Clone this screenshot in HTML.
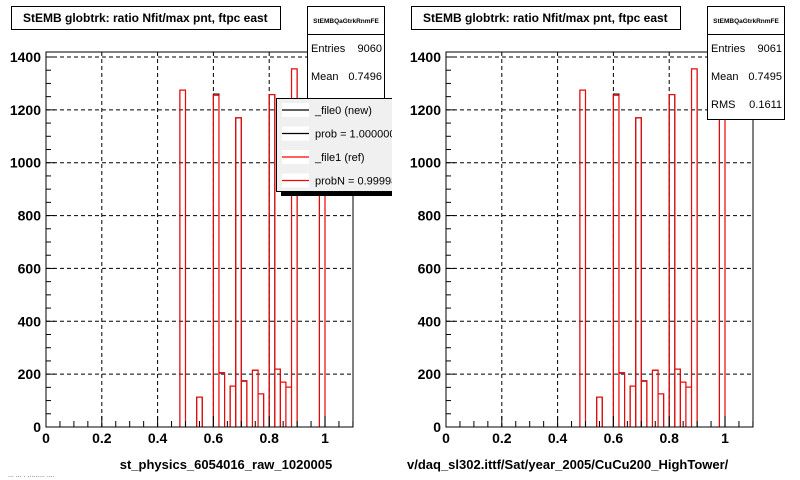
<!DOCTYPE html>
<html><head><meta charset="utf-8"><style>
html,body{margin:0;padding:0;background:#fff}
svg{display:block;font-family:"Liberation Sans",Arial,sans-serif}
</style></head><body>
<svg id="chart" width="800" height="480" viewBox="0 0 800 480" xmlns="http://www.w3.org/2000/svg">
<rect x="0" y="0" width="800" height="480" fill="#fff"/>
</svg>
<script>
const binLefts = [0.48,0.54,0.60,0.62,0.66,0.68,0.70,0.74,0.76,0.80,0.82,0.84,0.86,0.88,0.98];
const refCounts = [1275,113,1255,203,155,1170,173,215,125,1258,219,170,151,1355,1250];
const newCounts = [1275,113,1260,205,155,1170,175,215,125,1258,219,170,151,1355,1250];
const binWidth = 0.02;
const xTicks = [0,0.2,0.4,0.6,0.8,1];
const xTickLabels = ["0","0.2","0.4","0.6","0.8","1"];
const yTicks = [0,200,400,600,800,1000,1200,1400];
const yTickLabels = ["0","200","400","600","800","1000","1200","1400"];

const NS="http://www.w3.org/2000/svg";
const svg=document.getElementById('chart');
function mk(tag,attrs,parent,text){const e=document.createElementNS(NS,tag);for(const k in attrs)e.setAttribute(k,attrs[k]);if(text!==undefined)e.textContent=text;(parent||svg).appendChild(e);return e;}

function panel(off, idx, xtitle, stats, withLegend){
  const g=mk('g',{});
  
  
  const X0=46+off, X1=353+off, Y0=427, Ytop=52;
  const xs=v=>X0+v*(325-46);
  const ys=v=>Y0-v*(370/1400);
  for(let i=1;i<xTicks.length;i++){
    const l=mk('line',{x1:xs(xTicks[i]),x2:xs(xTicks[i]),y1:Ytop,y2:Y0,stroke:'#000','stroke-width':1,'stroke-dasharray':'4,3'},g);
    
    
  }
  for(let i=1;i<yTicks.length;i++){
    const l=mk('line',{x1:X0,x2:X1,y1:ys(yTicks[i]),y2:ys(yTicks[i]),stroke:'#000','stroke-width':1,'stroke-dasharray':'4,3'},g);
    
    
  }
  function hist(counts,color,name){
    let d='M'+X0+','+Y0;
    for(let i=0;i<binLefts.length;i++){
      const a=xs(binLefts[i]),b=xs(binLefts[i]+binWidth),h=ys(counts[i]);
      d+=' L'+a+','+Y0+' L'+a+','+h+' L'+b+','+h+' L'+b+','+Y0;
    }
    d+=' L'+X1+','+Y0;
    const p=mk('path',{d:d,fill:'none',stroke:color,'stroke-width':1.1},g);
    
    
  }
  hist(newCounts,'#000','hist-new');
  hist(refCounts,'#f00','hist-ref');
  const fr=mk('rect',{x:X0,y:Ytop,width:X1-X0,height:Y0-Ytop,fill:'none',stroke:'#000','stroke-width':1},g);
  
  
  for(let v=0;v<=1.1001;v+=0.05){
    const major=Math.abs(v/0.2-Math.round(v/0.2))<1e-6;
    mk('line',{x1:xs(v),x2:xs(v),y1:Y0,y2:Y0-(major?11:6),stroke:'#000'},g);
  }
  for(let i=0;i<xTicks.length;i++){
    const t=mk('text',{x:xs(xTicks[i]),y:443,'text-anchor':'middle','font-size':14,'font-weight':'bold'},g,xTickLabels[i]);
    
    
  }
  for(let v=0;v<=1400;v+=50){
    const major=v%200===0;
    mk('line',{x1:X0,x2:X0+(major?9:5),y1:ys(v),y2:ys(v),stroke:'#000'},g);
  }
  for(let i=0;i<yTicks.length;i++){
    const t=mk('text',{x:X0-5,y:ys(yTicks[i])+5,'text-anchor':'end','font-size':14,'font-weight':'bold'},g,yTickLabels[i]);
    
    
  }
  const xt=mk('text',{x:(idx===1?226:407),y:469,'text-anchor':idx===1?'middle':'start','font-size':13,'font-weight':'bold'},g,xtitle);
  
  
  const tb=mk('rect',{x:11.5+off,y:6.5,width:269,height:23,fill:'#fff',stroke:'#000'},g);
  
  
  const tt=mk('text',{x:23+off,y:22,'font-size':12,'font-weight':'bold'},g,'StEMB globtrk: ratio Nfit/max pnt, ftpc east');
  
  
  const sb=mk('rect',{x:307.5+off,y:6.5,width:77,height:113,fill:'#fff',stroke:'#000'},g);
  
  
  mk('line',{x1:307.5+off,x2:384.5+off,y1:34.5,y2:34.5,stroke:'#000'},g);
  mk('text',{x:346+off,y:23,'text-anchor':'middle','font-size':6.5,'font-weight':'bold'},g,'StEMBQaGtrkRnmFE');
  stats.forEach((s,i)=>{
    const y=52+i*28;
    const a=mk('text',{x:311+off,y:y,'font-size':11},g,s[0]);
    
    
    const b=mk('text',{x:382+off,y:y,'text-anchor':'end','font-size':11},g,s[1]);
    
    
  });
  if(withLegend){
    const lg=mk('g',{},g);
    
    
    mk('rect',{x:281,y:102,width:115,height:94,fill:'#000'},lg);
    mk('rect',{x:276.5,y:98.5,width:120,height:93,fill:'#f0f0f0',stroke:'#000'},lg);
    const ents=[['_file0 (new)','#000'],['prob = 1.000000','#000'],['_file1 (ref)','#f00'],['probN = 0.99998','#f00']];
    ents.forEach((e,i)=>{
      const y=110+i*23.5;
      const eg=mk('g',{},lg);
      
      
      mk('rect',{x:282,y:y-7,width:27,height:14,fill:'#fff'},eg);
      mk('line',{x1:282,x2:309,y1:y,y2:y,stroke:e[1],'stroke-width':1.3},eg);
      mk('text',{x:315,y:y+4,'font-size':11},eg,e[0]);
    });
  }
}
panel(0,1,'st_physics_6054016_raw_1020005',[['Entries','9060'],['Mean','0.7496'],['RMS','0.1611']],true);
panel(400,2,'v/daq_sl302.ittf/Sat/year_2005/CuCu200_HighTower/',[['Entries','9061'],['Mean','0.7495'],['RMS','0.1611']],false);
const cover=mk('rect',{x:392,y:90,width:8,height:110,fill:'#fff'});


const foot=mk('text',{x:8,y:477,'font-size':7,fill:'#555'},undefined,'... ... . ......... ....');


</script>
</body></html>
